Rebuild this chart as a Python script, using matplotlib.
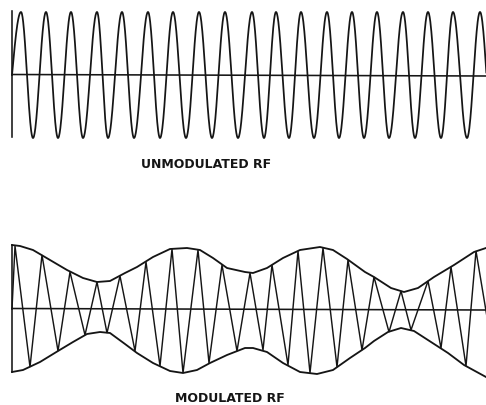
"""
Unmodulated vs. modulated RF carrier - line drawing
"""

import matplotlib
matplotlib.use("Agg")
import matplotlib.pyplot as plt
import numpy as np

INK = "#151515"
LW = 1.15

# ---- unmodulated carrier (x positions of crests / troughs, amplitude) ----
UNMOD_START_X = 12
UNMOD_PEAKS_X = [21, 46, 71, 97, 122, 148, 173, 199, 225, 252, 276, 301,
                 327, 352, 377, 403, 428, 453, 480]
UNMOD_TROUGHS_X = [33, 58, 83, 108, 134, 160, 186, 212, 238, 264, 289, 314,
                   339, 364, 389, 415, 441, 467, 493]
UNMOD_AMP = 63

# ---- modulated carrier: zig-zag vertices (x, amplitude) ----
MOD_X = [12, 15, 30, 42, 58, 70, 85, 97, 107, 120, 135, 146, 160, 172, 183,
         198, 209, 222, 237, 250, 263, 272, 288, 298, 310, 323, 337, 348, 362,
         374, 389, 401, 411, 428, 441, 451, 466, 476, 497]
MOD_AMP = [0, 63, -58, 54, -42, 37, -26, 27, -24, 33, -42, 47, -57, 60, -64,
           59, -54, 44, -42, 36, -41, 44, -56, 58, -64, 61, -58, 49, -41,
           32, -23, 18, -21, 28, -39, 42, -57, 58, -68]

# ---- envelope ----
ENV_UP_X = [12, 20, 33, 50, 67, 83, 97, 110, 125, 137, 153, 170, 187, 200,
            213, 227, 245, 253, 267, 283, 300, 320, 333, 347, 365, 374, 391,
            404, 418, 434, 454, 474, 486]
ENV_UP = [64, 63, 59, 49, 39, 31, 27, 28, 36, 42, 52, 60, 61, 59, 51, 41, 37,
          36, 41, 51, 59, 62, 59, 50, 37, 32, 21, 17, 21, 32, 44, 57, 61]
ENV_LO_X = [12, 23, 40, 58, 73, 87, 100, 110, 125, 137, 153, 170, 183, 197,
            210, 227, 245, 253, 267, 283, 300, 317, 333, 350, 365, 374, 388,
            401, 414, 431, 448, 464, 486]
ENV_LO = [-63, -61, -53, -42, -33, -25, -23, -24, -35, -44, -54, -62, -64,
          -61, -54, -46, -39, -39, -43, -54, -63, -65, -61, -49, -39, -32,
          -23, -19, -22, -33, -44, -56, -68]

W, H = 486, 406


def rounded_wave(xs, ys):
    """join crest/trough vertices with half-cosine segments"""
    out_x, out_y = [], []
    for i in range(len(xs) - 1):
        t = np.linspace(0, 1, 40)
        x0, x1, y0, y1 = xs[i], xs[i + 1], ys[i], ys[i + 1]
        if i == 0 and y0 == 0:
            shape = np.sin(np.pi * t / 2)
        else:
            shape = (1 - np.cos(np.pi * t)) / 2
        out_x.extend(x0 + (x1 - x0) * t)
        out_y.extend(y0 + (y1 - y0) * shape)
    return out_x, out_y


def style(ax, ylim):
    ax.set_xlim(0, W)
    ax.set_ylim(*ylim)
    ax.axis("off")


def main():
    fig = plt.figure(figsize=(W / 100, H / 100), dpi=100)
    fig.patch.set_facecolor("white")

    # top panel: rows 6..146 px, axis at 76
    ax1 = fig.add_axes([0, (H - 146) / H, 1, 140 / H])
    style(ax1, (-70, 70))
    ext = sorted([(x, UNMOD_AMP) for x in UNMOD_PEAKS_X] +
                 [(x, -UNMOD_AMP) for x in UNMOD_TROUGHS_X])
    vx = [UNMOD_START_X] + [p[0] for p in ext]
    vy = [0] + [p[1] for p in ext]
    wx, wy = rounded_wave(vx, vy)
    ax1.plot(wx, wy, color=INK, lw=LW * 1.1, solid_joinstyle="round")
    ax1.plot([UNMOD_START_X, W], [0.5, -1], color=INK, lw=LW)
    ax1.plot([UNMOD_START_X, UNMOD_START_X], [64, -62], color=INK, lw=LW)

    # bottom panel: rows 235..385 px, axis at 310
    ax2 = fig.add_axes([0, (H - 385) / H, 1, 150 / H])
    style(ax2, (-75, 75))
    ax2.plot(MOD_X, MOD_AMP, color=INK, lw=LW * 0.9, solid_joinstyle="miter")
    ax2.plot(ENV_UP_X, ENV_UP, color=INK, lw=LW * 1.15, solid_joinstyle="round")
    ax2.plot(ENV_LO_X, ENV_LO, color=INK, lw=LW * 1.15, solid_joinstyle="round")
    ax2.plot([MOD_X[0], W], [0.5, -1], color=INK, lw=LW)
    ax2.plot([MOD_X[0], MOD_X[0]], [64, -63], color=INK, lw=LW)

    txt = dict(ha="center", va="center", fontsize=9, fontweight="bold",
               color=INK, family="DejaVu Sans")
    fig.text(206 / W, 1 - 165 / H, "UNMODULATED RF", **txt)
    fig.text(230 / W, 1 - 399 / H, "MODULATED RF", **txt)

    fig.savefig("out.png", dpi=100, facecolor="white")
    plt.close(fig)


if __name__ == "__main__":
    main()
